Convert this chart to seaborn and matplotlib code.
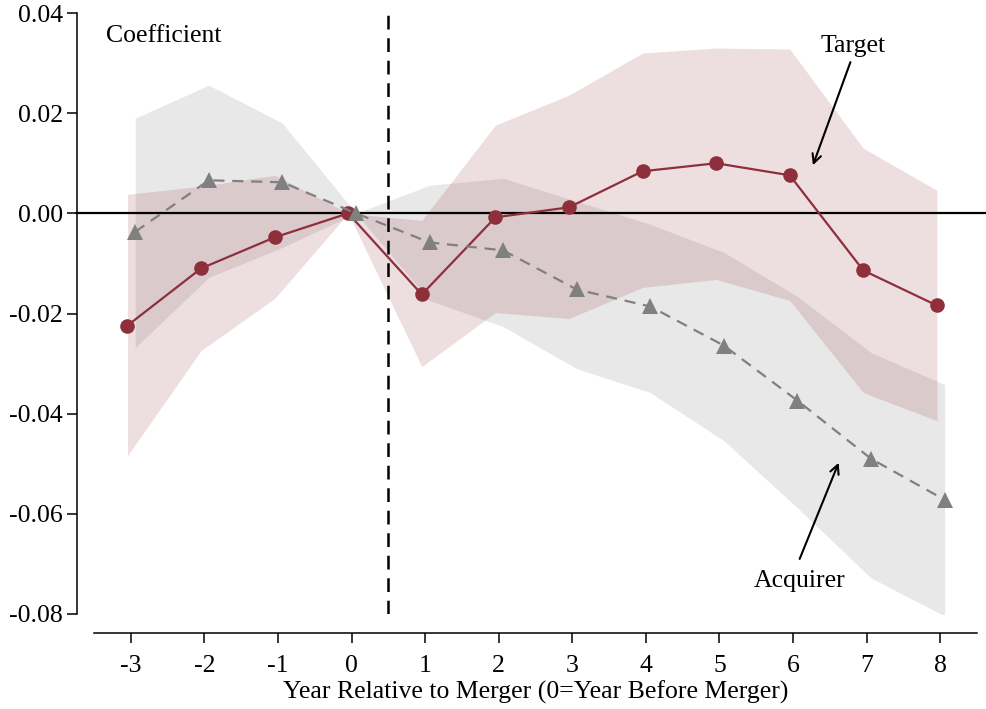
import matplotlib
matplotlib.use("Agg")
import matplotlib.pyplot as plt
import seaborn as sns
import numpy as np

# Event-time coefficients with confidence bands
years = [-3, -2, -1, 0, 1, 2, 3, 4, 5, 6, 7, 8]

target_coef = [-0.0224, -0.0110, -0.0048, 0.0, -0.0162, -0.0008, 0.0012, 0.0084, 0.0100, 0.0076, -0.0114, -0.0184]
target_hi = [0.0038, 0.0054, 0.0076, 0.0, -0.0014, 0.0176, 0.0236, 0.0320, 0.0330, 0.0328, 0.0130, 0.0046]
target_lo = [-0.0484, -0.0274, -0.0170, 0.0, -0.0306, -0.0198, -0.0210, -0.0148, -0.0132, -0.0174, -0.0358, -0.0414]

acq_coef = [-0.0037, 0.0066, 0.0062, 0.0, -0.0058, -0.0074, -0.0152, -0.0186, -0.0264, -0.0374, -0.0490, -0.0572]
acq_hi = [0.0190, 0.0256, 0.0180, 0.0, 0.0056, 0.0070, 0.0024, -0.0022, -0.0078, -0.0166, -0.0278, -0.0342]
acq_lo = [-0.0268, -0.0128, -0.0068, 0.0, -0.0174, -0.0226, -0.0310, -0.0358, -0.0454, -0.0588, -0.0728, -0.0804]

y_ticks = [0.04, 0.02, 0.00, -0.02, -0.04, -0.06, -0.08]

sns.set_theme(style="ticks")
plt.rcParams["font.family"] = ["Liberation Serif", "DejaVu Serif"]
plt.rcParams["text.color"] = "black"
plt.rcParams["axes.labelcolor"] = "black"
FS = 18.5

RED = "#8E2F3B"
GRAY = "#808080"

fig = plt.figure(figsize=(9.87, 7.09), dpi=100)
ax = fig.add_axes([94 / 987, 95 / 709, 883 / 987, 601 / 709])

# small horizontal dodge so the two series do not sit on top of each other
tx = np.array(years) - 0.045
axx = np.array(years) + 0.06

ax.fill_between(axx, acq_lo, acq_hi, color=GRAY, alpha=0.18, linewidth=0, zorder=1)
ax.fill_between(tx, target_lo, target_hi, color="#8B2232", alpha=0.15, linewidth=0, zorder=1.1)

# zero reference line, running across the offset spine to the figure edge
ax.plot([-0.02, 1.02], [0, 0], transform=ax.get_yaxis_transform(), color="black",
        lw=1.6, clip_on=False, zorder=2)
ax.axvline(0.5, color="black", lw=1.8, linestyle=(0, (5.5, 3.5)), zorder=2)

sns.lineplot(x=tx, y=target_coef, ax=ax, color=RED, lw=1.6, marker="o",
             markersize=10.5, markeredgewidth=0, zorder=3)
sns.lineplot(x=axx, y=acq_coef, ax=ax, color=GRAY, lw=1.6, linestyle=(0, (5, 3.5)),
             marker="^", markersize=11.5, markeredgewidth=0, zorder=4)

ax.set_xlim(-3.5, 8.5)
ax.set_ylim(-0.08, 0.04)
ax.set_xticks(years)
ax.set_xticklabels([str(y) for y in years])
ax.set_yticks(y_ticks)
ax.set_yticklabels([f"{v:.2f}" for v in y_ticks])
ax.set_xlabel("Year Relative to Merger (0=Year Before Merger)", fontsize=FS, labelpad=3,
              color="black")
ax.set_ylabel("")

for s in ["top", "right"]:
    ax.spines[s].set_visible(False)
ax.spines["left"].set_position(("outward", 12.2))
ax.spines["bottom"].set_position(("outward", 13.7))
for s in ["left", "bottom"]:
    ax.spines[s].set_linewidth(1.1)
    ax.spines[s].set_color("black")
ax.tick_params(axis="both", direction="out", length=7, width=1.1, color="black",
               labelcolor="black", labelsize=FS)
ax.tick_params(axis="y", pad=3)
ax.tick_params(axis="x", pad=8.5)
ax.grid(False)

ax.text(0.0136, 0.962, "Coefficient", transform=ax.transAxes, fontsize=FS,
        ha="left", va="center", color="black")

ax.text(6.81, 0.0334, "Target", fontsize=FS, ha="center", va="center", color="black")
ax.annotate("", xy=(6.27, 0.0096), xytext=(6.78, 0.0302),
            arrowprops=dict(arrowstyle="->", lw=1.5, color="black",
                            shrinkA=0, shrinkB=0, mutation_scale=16))
ax.text(6.09, -0.0735, "Acquirer", fontsize=FS, ha="center", va="center", color="black")
ax.annotate("", xy=(6.62, -0.0498), xytext=(6.09, -0.0690),
            arrowprops=dict(arrowstyle="->", lw=1.5, color="black",
                            shrinkA=0, shrinkB=0, mutation_scale=16))

fig.savefig("out.png", dpi=100)
